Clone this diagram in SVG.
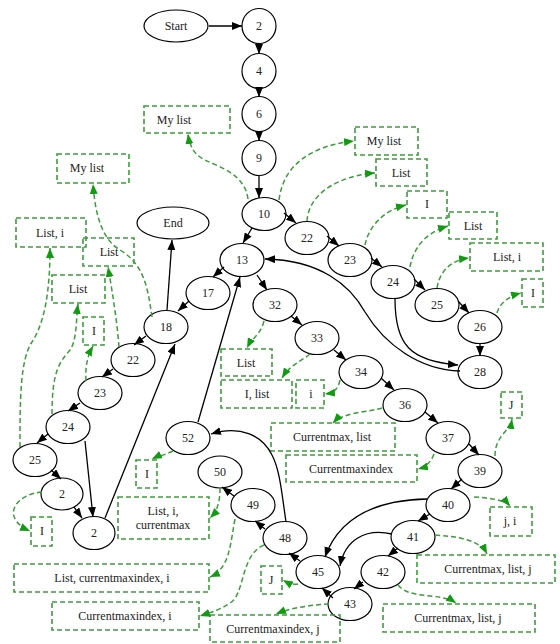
<svg xmlns="http://www.w3.org/2000/svg" width="560" height="644" viewBox="0 0 560 644">
<style>
.n ellipse{fill:#fff;stroke:#000;stroke-width:1.2}
.b rect{fill:none;stroke:#3c9c3c;stroke-width:1.6;stroke-dasharray:5,3}
text{font-family:"Liberation Serif","Times New Roman",serif;font-size:12px;fill:#222;text-anchor:middle;dominant-baseline:central}
.k{fill:none;stroke:#000;stroke-width:1.3;marker-end:url(#ak)}
.g{fill:none;stroke:#3c9c3c;stroke-width:1.5;stroke-dasharray:5,3;marker-end:url(#ag)}
</style>
<defs>
<marker id="ak" viewBox="0 0 10 8" markerWidth="10" markerHeight="8" refX="10" refY="4" orient="auto" markerUnits="userSpaceOnUse"><path d="M0,0L10,4L0,8z" fill="#000"/></marker>
<marker id="ag" viewBox="0 0 10 8" markerWidth="10" markerHeight="8" refX="10" refY="4" orient="auto" markerUnits="userSpaceOnUse"><path d="M0,0L10,4L0,8z" fill="#139a13"/></marker>
</defs>
<rect width="560" height="644" fill="#fff"/>

<g id="n-start" class="n"><ellipse cx="176" cy="26" rx="32" ry="16"/><text x="176" y="26">Start</text></g>
<g id="n-2" class="n"><ellipse cx="259" cy="26" rx="17" ry="17.5"/><text x="259" y="26">2</text></g>
<g id="n-4" class="n"><ellipse cx="259" cy="71" rx="17" ry="17.5"/><text x="259" y="71">4</text></g>
<g id="n-6" class="n"><ellipse cx="259" cy="114" rx="17" ry="17.5"/><text x="259" y="114">6</text></g>
<g id="n-9" class="n"><ellipse cx="259" cy="158" rx="17" ry="17.5"/><text x="259" y="158">9</text></g>
<g id="n-10" class="n"><ellipse cx="264" cy="214" rx="22" ry="16.5"/><text x="264" y="214">10</text></g>
<g id="n-22r" class="n"><ellipse cx="307" cy="238" rx="22" ry="16.5"/><text x="307" y="238">22</text></g>
<g id="n-23r" class="n"><ellipse cx="350" cy="260" rx="22" ry="16.5"/><text x="350" y="260">23</text></g>
<g id="n-24r" class="n"><ellipse cx="393" cy="282" rx="22" ry="16.5"/><text x="393" y="282">24</text></g>
<g id="n-25r" class="n"><ellipse cx="437" cy="305" rx="22" ry="16.5"/><text x="437" y="305">25</text></g>
<g id="n-26" class="n"><ellipse cx="480" cy="327" rx="22" ry="16.5"/><text x="480" y="327">26</text></g>
<g id="n-28" class="n"><ellipse cx="480" cy="372" rx="22" ry="16.5"/><text x="480" y="372">28</text></g>
<g id="n-13" class="n"><ellipse cx="242" cy="260" rx="22" ry="16.5"/><text x="242" y="260">13</text></g>
<g id="n-17" class="n"><ellipse cx="208" cy="293" rx="22" ry="16.5"/><text x="208" y="293">17</text></g>
<g id="n-18" class="n"><ellipse cx="166" cy="327" rx="22" ry="16.5"/><text x="166" y="327">18</text></g>
<g id="n-end" class="n"><ellipse cx="173" cy="223" rx="36" ry="16"/><text x="173" y="223">End</text></g>
<g id="n-22l" class="n"><ellipse cx="133" cy="360" rx="22" ry="16.5"/><text x="133" y="360">22</text></g>
<g id="n-23l" class="n"><ellipse cx="100" cy="393" rx="22" ry="16.5"/><text x="100" y="393">23</text></g>
<g id="n-24l" class="n"><ellipse cx="68" cy="427" rx="22" ry="16.5"/><text x="68" y="427">24</text></g>
<g id="n-25l" class="n"><ellipse cx="35" cy="460" rx="22" ry="16.5"/><text x="35" y="460">25</text></g>
<g id="n-2a" class="n"><ellipse cx="62" cy="494" rx="21" ry="16"/><text x="62" y="494">2</text></g>
<g id="n-2b" class="n"><ellipse cx="94" cy="533" rx="21" ry="16.5"/><text x="94" y="533">2</text></g>
<g id="n-32" class="n"><ellipse cx="275" cy="305" rx="22" ry="16.5"/><text x="275" y="305">32</text></g>
<g id="n-33" class="n"><ellipse cx="317" cy="338" rx="22" ry="16.5"/><text x="317" y="338">33</text></g>
<g id="n-34" class="n"><ellipse cx="361" cy="372" rx="22" ry="16.5"/><text x="361" y="372">34</text></g>
<g id="n-36" class="n"><ellipse cx="405" cy="405" rx="22" ry="16.5"/><text x="405" y="405">36</text></g>
<g id="n-37" class="n"><ellipse cx="448" cy="438" rx="22" ry="16.5"/><text x="448" y="438">37</text></g>
<g id="n-39" class="n"><ellipse cx="480" cy="471" rx="22" ry="16.5"/><text x="480" y="471">39</text></g>
<g id="n-40" class="n"><ellipse cx="448" cy="505" rx="22" ry="16.5"/><text x="448" y="505">40</text></g>
<g id="n-41" class="n"><ellipse cx="413" cy="537" rx="22" ry="16.5"/><text x="413" y="537">41</text></g>
<g id="n-42" class="n"><ellipse cx="383" cy="572" rx="22" ry="16.5"/><text x="383" y="572">42</text></g>
<g id="n-43" class="n"><ellipse cx="350" cy="604" rx="22" ry="16.5"/><text x="350" y="604">43</text></g>
<g id="n-45" class="n"><ellipse cx="318" cy="572" rx="22" ry="16.5"/><text x="318" y="572">45</text></g>
<g id="n-48" class="n"><ellipse cx="285" cy="538" rx="22" ry="16.5"/><text x="285" y="538">48</text></g>
<g id="n-49" class="n"><ellipse cx="253" cy="505" rx="22" ry="16.5"/><text x="253" y="505">49</text></g>
<g id="n-50" class="n"><ellipse cx="220" cy="472" rx="22" ry="16"/><text x="220" y="472">50</text></g>
<g id="n-52" class="n"><ellipse cx="188" cy="438" rx="22" ry="16.5"/><text x="188" y="438">52</text></g>

<g id="b-mylist1" class="b"><rect x="144" y="106" width="86" height="27"/><text x="174" y="120">My list</text></g>
<g id="b-mylist2" class="b"><rect x="57" y="154" width="72" height="29"/><text x="87" y="168">My list</text></g>
<g id="b-mylist3" class="b"><rect x="355" y="127" width="63" height="28"/><text x="384" y="141">My list</text></g>
<g id="b-list1" class="b"><rect x="376" y="159" width="51" height="27"/><text x="401" y="173">List</text></g>
<g id="b-i1" class="b"><rect x="407" y="191" width="40" height="27"/><text x="427" y="204">I</text></g>
<g id="b-list2" class="b"><rect x="449" y="212" width="48" height="27"/><text x="473" y="226">List</text></g>
<g id="b-listi1" class="b"><rect x="470" y="243" width="73" height="28"/><text x="507" y="257">List, i</text></g>
<g id="b-i2" class="b"><rect x="522" y="279" width="21" height="28"/><text x="533" y="293">I</text></g>
<g id="b-j1" class="b"><rect x="501" y="392" width="21" height="26"/><text x="511" y="405">J</text></g>
<g id="b-list3" class="b"><rect x="221" y="349" width="51" height="27"/><text x="246" y="363">List</text></g>
<g id="b-ilist" class="b"><rect x="221" y="380" width="71" height="28"/><text x="257" y="394">I, list</text></g>
<g id="b-i3" class="b"><rect x="296" y="380" width="28" height="28"/><text x="311" y="394">i</text></g>
<g id="b-cmlist" class="b"><rect x="271" y="423" width="124" height="28"/><text x="332" y="437">Currentmax, list</text></g>
<g id="b-cmi" class="b"><rect x="286" y="455" width="131" height="27"/><text x="351" y="469">Currentmaxindex</text></g>
<g id="b-ji" class="b"><rect x="490" y="507" width="42" height="29"/><text x="510" y="521">j, i</text></g>
<g id="b-cmlj1" class="b"><rect x="417" y="555" width="138" height="28"/><text x="488" y="569">Currentmax, list, j</text></g>
<g id="b-cmlj2" class="b"><rect x="383" y="604" width="152" height="28"/><text x="458" y="618">Currentmax, list, j</text></g>
<g id="b-cmij" class="b"><rect x="210" y="615" width="130" height="27"/><text x="273" y="629">Currentmaxindex, j</text></g>
<g id="b-j2" class="b"><rect x="261" y="566" width="21" height="28"/><text x="271" y="580">J</text></g>
<g id="b-cmii" class="b"><rect x="52" y="602" width="147" height="28"/><text x="125" y="616">Currentmaxindex, i</text></g>
<g id="b-lcmi" class="b"><rect x="14" y="564" width="195" height="28"/><text x="112" y="578">List, currentmaxindex, i</text></g>
<g id="b-licm" class="b"><rect x="118" y="497" width="91" height="42"/><text x="163" y="511">List, i,</text><text x="163" y="525">currentmax</text></g>
<g id="b-i4" class="b"><rect x="136" y="460" width="21" height="28"/><text x="147" y="474">I</text></g>
<g id="b-i5" class="b"><rect x="31" y="517" width="21" height="29"/><text x="42" y="531">I</text></g>
<g id="b-listi2" class="b"><rect x="16" y="218" width="70" height="29"/><text x="50" y="233">List, i</text></g>
<g id="b-list4" class="b"><rect x="83" y="238" width="51" height="28"/><text x="109" y="252">List</text></g>
<g id="b-list5" class="b"><rect x="52" y="275" width="53" height="28"/><text x="78" y="289">List</text></g>
<g id="b-i6" class="b"><rect x="83" y="317" width="21" height="28"/><text x="94" y="331">I</text></g>

<g id="connectors">
<path class="k" d="M209,26 L242,26"/>
<path class="k" d="M259,44 L259,54"/>
<path class="k" d="M259,89 L259,97"/>
<path class="k" d="M259,132 L259,141"/>
<path class="k" d="M259,176 L259,198"/>
<path class="k" d="M284,213 L296,223"/>
<path class="k" d="M327,236 L339,246"/>
<path class="k" d="M371,258 L382,267"/>
<path class="k" d="M414,279 L425,290"/>
<path class="k" d="M458,301 L469,313"/>
<path class="k" d="M480,344 L480,356"/>
<path class="k" d="M395,299 C395,345 410,361 458,365"/>
<path class="k" d="M460,371 C420,370 385,345 365,312 C350,285 320,260 265,259"/>
<path class="k" d="M252,228 L243,243"/>
<path class="k" d="M224,267 L213,277"/>
<path class="k" d="M257,275 L267,290"/>
<path class="k" d="M189,301 L178,311"/>
<path class="k" d="M167,310 L172,240"/>
<path class="k" d="M146,336 L134,345"/>
<path class="k" d="M113,369 L102,377"/>
<path class="k" d="M80,403 L68,411"/>
<path class="k" d="M48,434 L37,443"/>
<path class="k" d="M51,470 L61,479"/>
<path class="k" d="M74,507 L82,518"/>
<path class="k" d="M85,441 L93,517"/>
<path class="k" d="M105,518 L175,344"/>
<path class="k" d="M198,422 L240,277"/>
<path class="k" d="M291,316 L302,325"/>
<path class="k" d="M334,350 L346,360"/>
<path class="k" d="M381,378 L394,390"/>
<path class="k" d="M425,412 L438,423"/>
<path class="k" d="M469,444 L479,455"/>
<path class="k" d="M462,479 L451,489"/>
<path class="k" d="M430,514 L418,521"/>
<path class="k" d="M398,548 L388,556"/>
<path class="k" d="M363,582 L354,589"/>
<path class="k" d="M333,598 L322,588"/>
<path class="k" d="M300,561 L289,553"/>
<path class="k" d="M265,529 L255,521"/>
<path class="k" d="M234,496 L222,487"/>
<path class="k" d="M286,522 C282,495 280,470 272,455 C262,435 240,425 211,434"/>
<path class="k" d="M427,499 C380,500 340,515 325,557"/>
<path class="k" d="M392,534 C365,528 345,540 340,566"/>

<path class="g" d="M248,199 C245,175 222,168 205,160 C195,155 190,148 188,134"/>
<path class="g" d="M279,200 C284,160 318,145 354,141"/>
<path class="g" d="M307,221 C309,190 345,175 375,173"/>
<path class="g" d="M365,245 C369,225 385,210 406,205"/>
<path class="g" d="M410,267 C414,245 428,232 448,226"/>
<path class="g" d="M437,288 C440,270 452,260 469,258"/>
<path class="g" d="M497,313 C500,302 510,296 521,293"/>
<path class="g" d="M495,456 C495,435 510,432 512,419"/>
<path class="g" d="M434,454 C431,462 426,467 418,469"/>
<path class="g" d="M382,408 C370,412 343,412 333,423"/>
<path class="g" d="M340,380 C338,390 333,393 325,394"/>
<path class="g" d="M310,354 C300,362 290,365 282,378"/>
<path class="g" d="M264,321 C261,334 252,338 247,348"/>
<path class="g" d="M173,451 C165,455 158,456 152,459"/>
<path class="g" d="M235,519 C230,545 230,568 210,577"/>
<path class="g" d="M220,488 C220,505 216,512 210,518"/>
<path class="g" d="M264,545 C240,555 245,595 230,603 C220,610 212,612 200,616"/>
<path class="g" d="M329,604 C310,605 290,608 276,614"/>
<path class="g" d="M298,584 C293,585 288,583 283,580"/>
<path class="g" d="M435,535 C460,537 480,540 487,554"/>
<path class="g" d="M474,497 C490,498 505,500 510,506"/>
<path class="g" d="M398,585 C410,600 440,592 456,603"/>
<path class="g" d="M152,317 C148,290 145,265 120,250 C100,238 95,210 93,184"/>
<path class="g" d="M119,347 C117,320 112,290 108,267"/>
<path class="g" d="M86,381 C85,365 88,355 93,346"/>
<path class="g" d="M52,414 C52,370 60,362 70,350 C77,340 76,320 78,304"/>
<path class="g" d="M20,447 C20,400 20,360 32,342 C45,322 50,290 50,248"/>
<path class="g" d="M42,492 C15,494 0,518 30,531"/>
</g>
</svg>
